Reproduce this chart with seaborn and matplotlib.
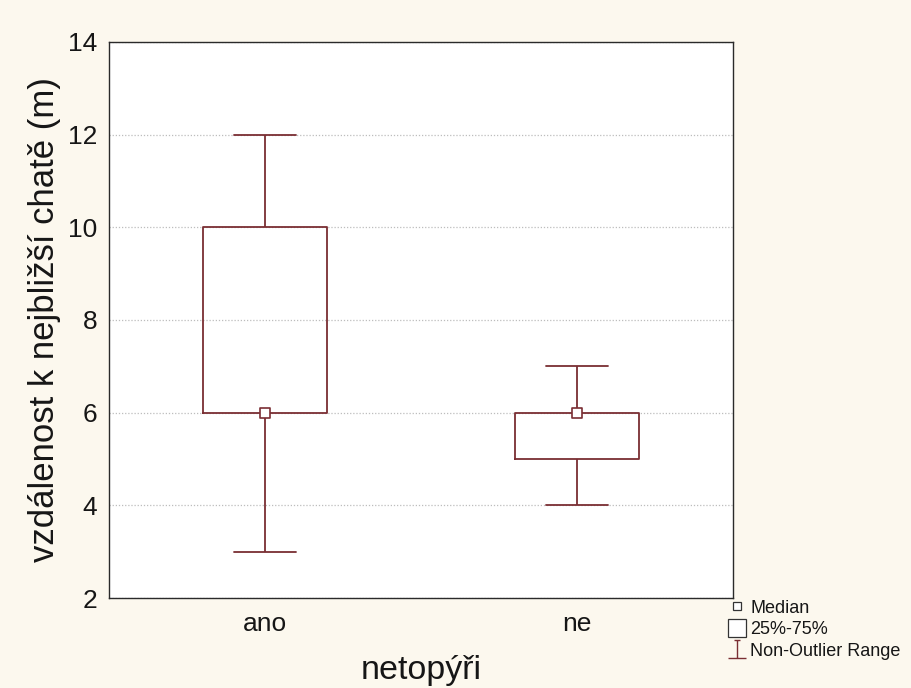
import numpy as np
import pandas as pd
import matplotlib
matplotlib.use("Agg")
import matplotlib.pyplot as plt
import seaborn as sns
from matplotlib.lines import Line2D
from matplotlib.path import Path

# Summary statistics per group
categories = ["ano", "ne"]
whisker_low = [3, 4]
q1 = [6, 5]
median = [6, 6]
q3 = [10, 6]
whisker_high = [12, 7]

# five-number samples reproduce the quartiles exactly
rows = []
for c, lo, a, m, b, hi in zip(categories, whisker_low, q1, median, q3, whisker_high):
    for v in (lo, a, m, b, hi):
        rows.append({"netopýři": c, "vzdálenost": v})
df = pd.DataFrame(rows)
med_df = pd.DataFrame({"netopýři": categories, "vzdálenost": median})

sns.set_style("white")
plt.rcParams["font.family"] = ["Liberation Sans", "DejaVu Sans"]
TXT = "#161616"
plt.rcParams["text.color"] = TXT
plt.rcParams["axes.labelcolor"] = TXT
plt.rcParams["xtick.color"] = TXT
plt.rcParams["ytick.color"] = TXT

EDGE = "#7a2e33"
BG = "#fcf8ee"

fig = plt.figure(figsize=(9.11, 6.88), dpi=100, facecolor=BG)
ax = fig.add_axes([0.1197, 0.1308, 0.6849, 0.8082])
ax.set_facecolor("white")

sns.boxplot(
    data=df, x="netopýři", y="vzdálenost", order=categories, ax=ax,
    whis=np.inf, width=0.4, fill=False, color=EDGE, linewidth=1.3,
    medianprops={"visible": False},
)
sns.scatterplot(
    data=med_df, x="netopýři", y="vzdálenost", ax=ax, marker="s", s=50,
    facecolor="white", edgecolor=EDGE, linewidth=1.2, zorder=5, legend=False,
)

ax.set_xlim(-0.5, 1.5)
ax.set_ylim(2, 14)
ax.set_yticks([2, 4, 6, 8, 10, 12, 14])
ax.yaxis.grid(True, linestyle=(0, (1, 1.5)), color="#bdbdbd", linewidth=0.9)
ax.set_axisbelow(True)
for s in ax.spines.values():
    s.set_color("#2a2a2a")
    s.set_linewidth(1.0)
ax.tick_params(axis="x", direction="in", length=4, color="#555555",
               labelsize=19, pad=10)
ax.tick_params(axis="y", length=0, labelsize=19, pad=8.5)
ax.set_xlabel("netopýři", fontsize=24.5, labelpad=14)
ax.set_ylabel("vzdálenost k nejbližší chatě (m)", fontsize=25, labelpad=5)

# Legend with custom glyphs
whisker_marker = Path(
    [(-0.3, 1), (0.3, 1), (0, 1), (0, -1), (-1, -1), (1, -1)],
    [Path.MOVETO, Path.LINETO, Path.MOVETO, Path.LINETO, Path.MOVETO, Path.LINETO],
)
handles = [
    Line2D([], [], linestyle="none", marker="s", markersize=5.5,
           markerfacecolor="white", markeredgecolor="#333333", markeredgewidth=0.9),
    Line2D([], [], linestyle="none", marker="s", markersize=12.5,
           markerfacecolor="white", markeredgecolor="#333333", markeredgewidth=0.9),
    Line2D([], [], linestyle="none", marker=whisker_marker, markersize=13,
           markerfacecolor="none", markeredgecolor=EDGE, markeredgewidth=1.0),
]
labels = ["Median", "25%-75%", "Non-Outlier Range"]
fig.legend(handles, labels, loc="lower left", bbox_to_anchor=(0.801, 0.041),
           bbox_transform=fig.transFigure, frameon=False, fontsize=13,
           handlelength=0.85, handletextpad=0.3, labelspacing=0.25,
           borderpad=0, borderaxespad=0)

fig.savefig("out.png", dpi=100, facecolor=BG)
